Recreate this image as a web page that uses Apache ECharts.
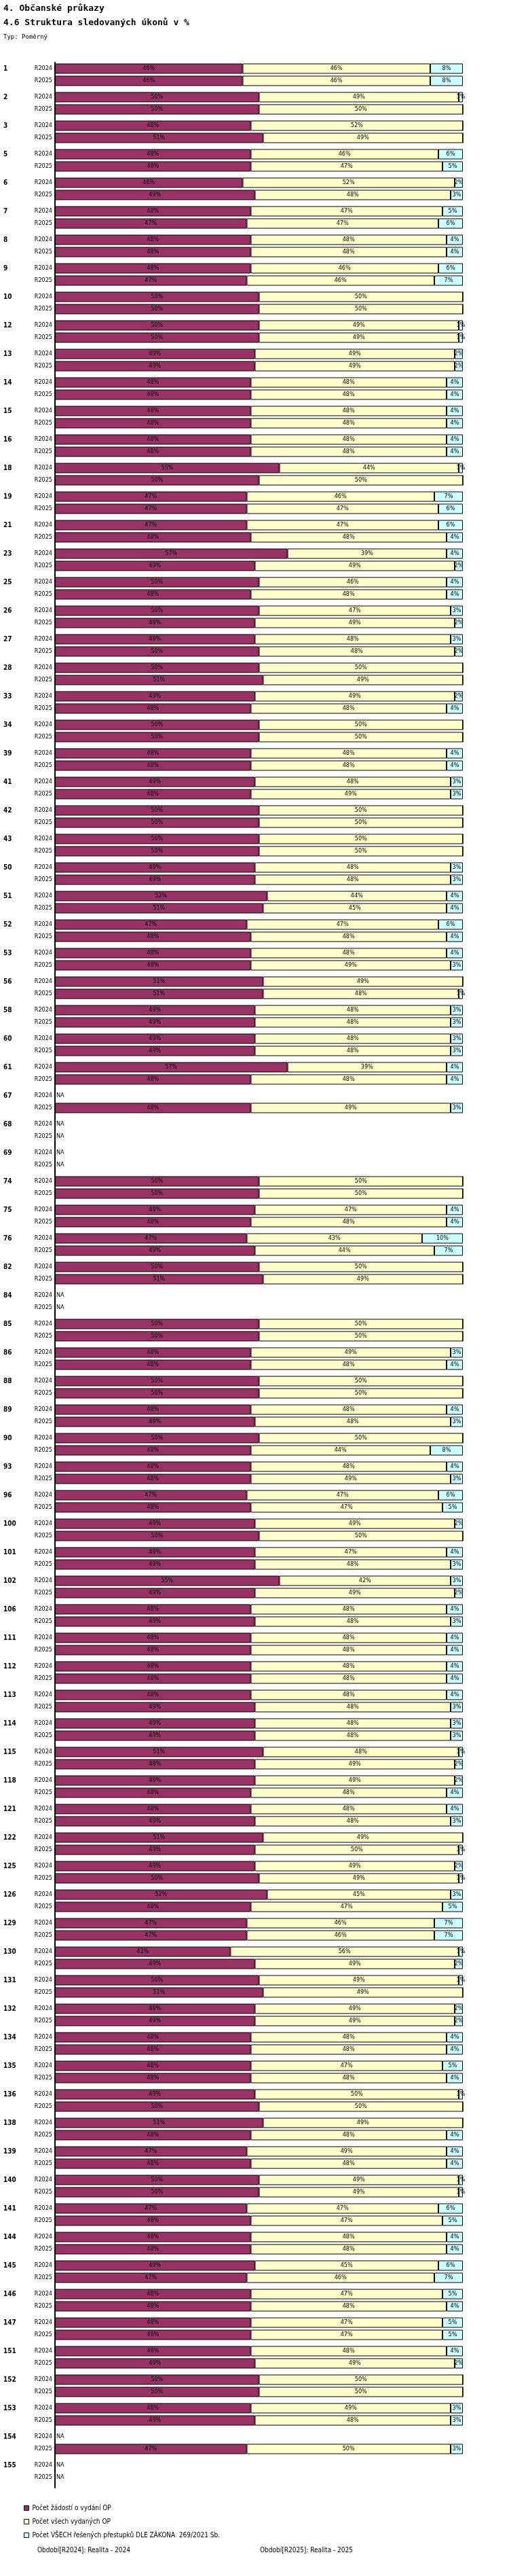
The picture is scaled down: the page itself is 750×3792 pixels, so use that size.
<!DOCTYPE html>
<html>
<head>
<meta charset="UTF-8">
<title>Struktura sledovaných úkonů</title>
<script src="https://cdn.jsdelivr.net/npm/echarts@6/dist/echarts.min.js"></script>
<style>
  body { margin: 0; background: #fff; }
  #chart { width: 750px; height: 3792px; }
</style>
</head>
<body>
<div id="chart"></div>
<script>
// skupiny (obce) a hodnoty v %, null = NA
var groups = [1,2,3,5,6,7,8,9,10,12,13,14,15,16,18,19,21,23,25,26,27,28,33,34,39,41,42,43,50,51,52,53,56,58,60,61,67,68,69,74,75,76,82,84,85,86,88,89,90,93,96,100,101,102,106,111,112,113,114,115,118,121,122,125,126,129,130,131,132,134,135,136,138,139,140,141,144,145,146,147,151,152,153,154,155];

var zad2024 = [46,50,48,48,46,48,48,48,50,50,49,48,48,48,55,47,47,57,50,50,49,50,49,50,48,49,50,50,49,52,47,48,51,49,49,57,null,null,null,50,49,47,50,null,50,48,50,48,50,48,47,49,49,55,48,48,48,48,49,51,49,48,51,49,52,47,43,50,49,48,48,49,51,47,50,47,48,49,48,48,48,50,48,null,null];
var vyd2024 = [46,49,52,46,52,47,48,46,50,49,49,48,48,48,44,46,47,39,46,47,48,50,49,50,48,48,50,50,48,44,47,48,49,48,48,39,null,null,null,50,47,43,50,null,50,49,50,48,50,48,47,49,47,42,48,48,48,48,48,48,49,48,49,49,45,46,56,49,49,48,47,50,49,49,49,47,48,45,47,47,48,50,49,null,null];
var pre2024 = [8,1,0,6,2,5,4,6,0,1,2,4,4,4,1,7,6,4,4,3,3,0,2,0,4,3,0,0,3,4,6,4,0,3,3,4,null,null,null,0,4,10,0,null,0,3,0,4,0,4,6,2,4,3,4,4,4,4,3,1,2,4,0,2,3,7,1,1,2,4,5,1,0,4,1,6,4,6,5,5,4,0,3,null,null];

var zad2025 = [46,50,51,48,49,47,48,47,50,50,49,48,48,48,50,47,48,49,48,49,50,51,48,50,48,48,50,50,49,51,48,48,51,49,49,48,48,null,null,50,48,49,51,null,50,48,50,49,48,48,48,50,49,49,49,48,48,49,49,49,48,49,49,50,48,47,49,51,49,48,48,50,48,48,50,48,48,47,48,48,49,50,49,47,null];
var vyd2025 = [46,50,49,47,48,47,48,46,50,49,49,48,48,48,50,47,48,49,48,49,48,49,48,50,48,49,50,50,48,45,48,49,48,48,48,48,49,null,null,50,48,44,49,null,50,48,50,48,44,49,47,50,48,49,48,48,48,48,48,49,48,48,50,49,47,46,49,49,49,48,48,50,48,48,49,47,48,46,48,47,49,50,48,50,null];
var pre2025 = [8,0,0,5,3,6,4,7,0,1,2,4,4,4,0,6,4,2,4,2,2,0,4,0,4,3,0,0,3,4,4,3,1,3,3,4,3,null,null,0,4,7,0,null,0,4,0,3,8,3,5,0,3,2,3,4,4,3,3,2,4,3,1,1,5,7,2,0,2,4,4,0,4,4,1,5,4,7,4,5,2,0,3,3,null];

var legendNames = ['Počet žádostí o vydání OP', 'Počet všech vydaných OP', 'Počet VŠECH řešených přestupků DLE ZÁKONA  269/2021 Sb.'];
var colors = ['#993366', '#ffffcc', '#ccffff'];

// 7 slotu na skupinu: slot 1 = R2024, slot 4 = R2025
var cats = [], gLabel = [], rLabel = [];
var sA = [], sB = [], sC = [], sNA = [];
groups.forEach(function (g, i) {
  for (var s = 0; s < 7; s++) {
    cats.push(i + '_' + s);
    var row = s === 1 ? 0 : (s === 4 ? 1 : -1);
    gLabel.push(s === 1 ? String(g) : '');
    rLabel.push(row === 0 ? 'R2024' : (row === 1 ? 'R2025' : ''));
    if (row < 0) { sA.push('-'); sB.push('-'); sC.push('-'); sNA.push('-'); continue; }
    var a = row === 0 ? zad2024[i] : zad2025[i];
    var b = row === 0 ? vyd2024[i] : vyd2025[i];
    var c = row === 0 ? pre2024[i] : pre2025[i];
    if (a === null) {
      sA.push('-'); sB.push('-'); sC.push('-'); sNA.push(0);
    } else {
      sA.push(a); sB.push(b); sC.push(c); sNA.push('-');
    }
  }
});

var lbl = {
  show: true, position: 'inside', color: '#000', fontSize: 9,
  fontFamily: 'DejaVu Sans Condensed',
  formatter: function (p) { return p.value > 0 ? p.value + '%' : ''; }
};
function barSeries(name, data, color) {
  return {
    name: name, type: 'bar', stack: 'all', data: data, barWidth: 15,
    itemStyle: { color: color, borderColor: '#000', borderWidth: 1 },
    label: lbl, animation: false
  };
}

var chart = echarts.init(document.getElementById('chart'), null, { renderer: 'canvas' });
chart.setOption({
  animation: false,
  textStyle: { fontFamily: 'DejaVu Sans Condensed' },
  title: [
    { text: '4. Občanské průkazy', left: 0, top: 1, textStyle: { fontSize: 13, fontWeight: 'bold', fontFamily: 'DejaVu Sans Mono', color: '#000' } },
    { text: '4.6 Struktura sledovaných úkonů v %', left: 0, top: 22, textStyle: { fontSize: 13, fontWeight: 'bold', fontFamily: 'DejaVu Sans Mono', color: '#000' } },
    { text: 'Typ: Poměrný', left: 0, top: 45, textStyle: { fontSize: 9, fontWeight: 'normal', fontFamily: 'DejaVu Sans Mono', color: '#000' } }
  ],
  color: colors,
  legend: {
    data: legendNames, orient: 'vertical', left: 30, top: 3682,
    itemWidth: 7, itemHeight: 7, itemGap: 10, icon: 'rect',
    itemStyle: { borderColor: '#000', borderWidth: 1 },
    textStyle: { fontSize: 10, color: '#000', fontFamily: 'DejaVu Sans Condensed' }
  },
  grid: { left: 81, right: 68, top: 92, height: 3570 },
  xAxis: { type: 'value', min: 0, max: 100, show: false },
  yAxis: {
    type: 'category', data: cats, inverse: true,
    axisLine: { lineStyle: { color: '#000', width: 2 } },
    axisTick: { show: false },
    axisLabel: {
      interval: 0, margin: 4,
      formatter: function (v, idx) {
        if (!rLabel[idx]) return '';
        return '{g|' + gLabel[idx] + '}{r|' + rLabel[idx] + '}';
      },
      rich: {
        g: { width: 40, align: 'left', fontSize: 10, fontWeight: 'bold', color: '#000', fontFamily: 'DejaVu Sans Condensed' },
        r: { width: 32, align: 'right', fontSize: 9, color: '#000', fontFamily: 'DejaVu Sans Condensed' }
      }
    }
  },
  series: [
    barSeries(legendNames[0], sA, colors[0]),
    barSeries(legendNames[1], sB, colors[1]),
    barSeries(legendNames[2], sC, colors[2]),
    {
      type: 'bar', data: sNA, barWidth: 15, barGap: '-100%', silent: true,
      itemStyle: { color: 'transparent' },
      label: { show: true, position: 'right', distance: 2, formatter: 'NA', color: '#000', fontSize: 9 },
      animation: false
    }
  ],
  graphic: [
    { type: 'text', left: 55, top: 3749, style: { text: 'Období[R2024]: Realita - 2024', fontSize: 10, fill: '#000', fontFamily: 'DejaVu Sans Condensed' } },
    { type: 'text', left: 383, top: 3749, style: { text: 'Období[R2025]: Realita - 2025', fontSize: 10, fill: '#000', fontFamily: 'DejaVu Sans Condensed' } }
  ]
});
</script>
</body>
</html>
